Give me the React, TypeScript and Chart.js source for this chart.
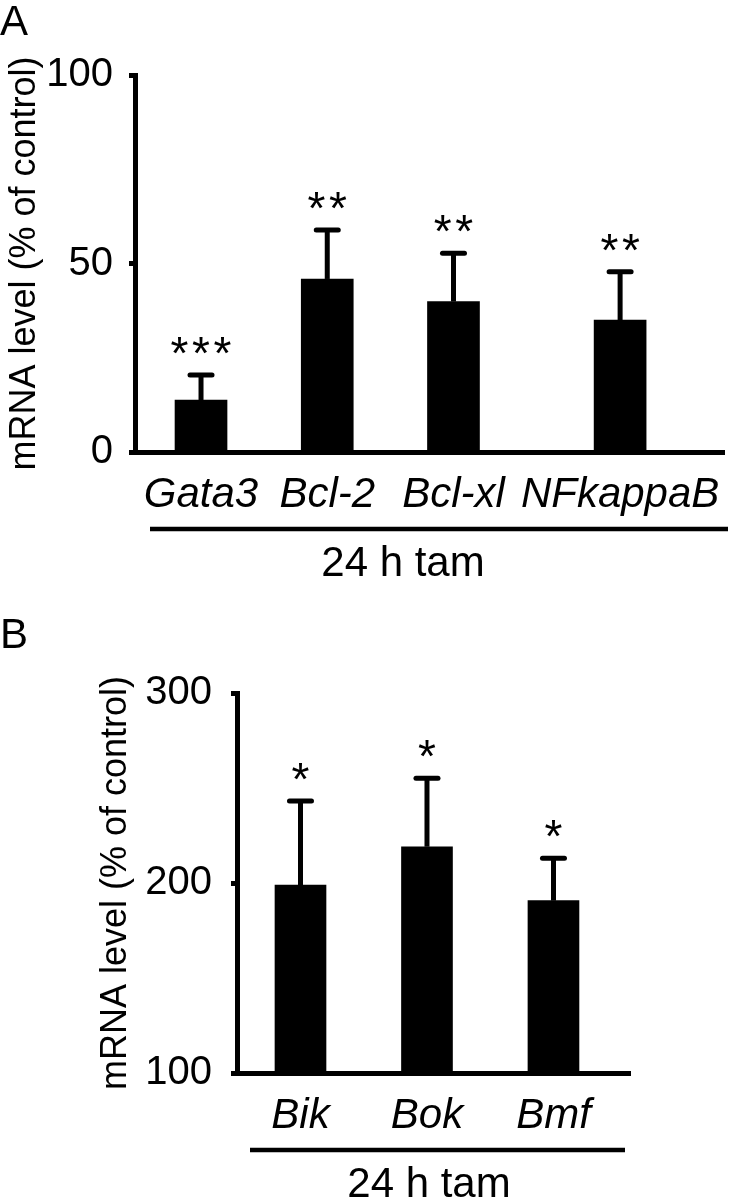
import React, { useEffect, useRef } from 'react';
import { Chart, registerables } from 'chart.js';

Chart.register(...registerables);

const FONT = "'Liberation Sans', Arial, Helvetica, sans-serif";

// ---- Panel A data ----
const genesA = ['Gata3', 'Bcl-2', 'Bcl-xl', 'NFkappaB'];
const meanA = [13.8, 45.9, 39.9, 35.0];
const semA = [6.6, 13.0, 12.8, 12.8];
const starsA = ['***', '**', '**', '**'];
const yTicksA = [0, 50, 100];

// ---- Panel B data ----
const genesB = ['Bik', 'Bok', 'Bmf'];
const meanB = [198.9, 219.1, 190.7];
const semB = [44.3, 36.0, 22.3];
const starsB = ['*', '*', '*'];
const yTicksB = [100, 200, 300];

const yTitle = 'mRNA level (% of control)';
const groupLabel = '24 h tam';

type PanelCfg = {
  letter: string;
  labels: string[];
  mean: number[];
  sem: number[];
  stars: string[];
  yTicks: number[];
  slots: number[];
  top: number;
  width: number;
  height: number;
  area: { left: number; right: number; top: number; bottom: number };
  xRange: [number, number];
  barThickness: number;
  yTickPad: number;
  yTitlePad: number;
  groupLine: { x0: number; x1: number; y: number };
  groupText: { x: number; y: number };
  letterY: number;
};

// layout: category slot positions along the x axis (gene label spacing as in the figure)
const panelA: PanelCfg = {
  letter: 'A',
  labels: genesA,
  mean: meanA,
  sem: semA,
  stars: starsA,
  yTicks: yTicksA,
  slots: [0, 1, 2, 3.32],
  top: 0,
  width: 732,
  height: 600,
  area: { left: 135, right: 724, top: 75, bottom: 452 },
  xRange: [-0.523, 4.143],
  barThickness: 52,
  yTickPad: 16,
  yTitlePad: 3.5,
  groupLine: { x0: 150, x1: 728, y: 529 },
  groupText: { x: 403, y: 576 },
  letterY: 35,
};

const panelB: PanelCfg = {
  letter: 'B',
  labels: genesB,
  mean: meanB,
  sem: semB,
  stars: starsB,
  yTicks: yTicksB,
  slots: [0, 1, 2],
  top: 600,
  width: 732,
  height: 599,
  area: { left: 237, right: 630, top: 93, bottom: 473 },
  xRange: [-0.502, 2.605],
  barThickness: 51,
  yTickPad: 19,
  yTitlePad: 94.5,
  groupLine: { x0: 250, x1: 625, y: 550 },
  groupText: { x: 429, y: 597 },
  letterY: 48,
};

function makeAnnot(cfg: PanelCfg) {
  return {
    id: 'annot' + cfg.letter,
    afterDatasetsDraw(chart: any) {
      const ctx: CanvasRenderingContext2D = chart.ctx;
      const meta = chart.getDatasetMeta(0);
      const yScale = chart.scales.y;
      ctx.save();
      ctx.strokeStyle = '#000';
      ctx.fillStyle = '#000';
      meta.data.forEach((bar: any, i: number) => {
        const top = yScale.getPixelForValue(cfg.mean[i] + cfg.sem[i]);
        ctx.lineWidth = 5;
        ctx.lineCap = 'butt';
        ctx.beginPath();
        ctx.moveTo(bar.x, bar.y);
        ctx.lineTo(bar.x, top);
        ctx.stroke();
        ctx.lineCap = 'round';
        ctx.beginPath();
        ctx.moveTo(bar.x - 11, top);
        ctx.lineTo(bar.x + 11, top);
        ctx.stroke();
        const s = cfg.stars[i];
        const n = s.length;
        ctx.font = `46px ${FONT}`;
        ctx.textAlign = 'center';
        ctx.textBaseline = 'alphabetic';
        for (let k = 0; k < n; k++) {
          ctx.fillText('*', bar.x + (k - (n - 1) / 2) * 21.5, top - 6);
        }
      });
      // group line and label
      ctx.lineCap = 'butt';
      ctx.lineWidth = 4.5;
      ctx.beginPath();
      ctx.moveTo(cfg.groupLine.x0, cfg.groupLine.y);
      ctx.lineTo(cfg.groupLine.x1, cfg.groupLine.y);
      ctx.stroke();
      ctx.font = `42px ${FONT}`;
      ctx.textAlign = 'center';
      ctx.textBaseline = 'alphabetic';
      ctx.fillText(groupLabel, cfg.groupText.x, cfg.groupText.y);
      // panel letter
      ctx.textAlign = 'left';
      ctx.font = `42px ${FONT}`;
      ctx.fillText(cfg.letter, 0, cfg.letterY);
      ctx.restore();
    },
  };
}

function Panel({ cfg }: { cfg: PanelCfg }) {
  const ref = useRef<HTMLCanvasElement>(null);
  useEffect(() => {
    const canvas = ref.current!;
    const yMin = cfg.yTicks[0];
    const yMax = cfg.yTicks[cfg.yTicks.length - 1];
    const step = cfg.yTicks[1] - cfg.yTicks[0];
    const chart = new Chart(canvas, {
      type: 'bar',
      data: {
        labels: cfg.labels,
        datasets: [
          {
            data: cfg.mean.map((m, i) => ({ x: cfg.slots[i], y: m })),
            backgroundColor: '#000',
            borderWidth: 0,
            barThickness: cfg.barThickness,
          } as any,
        ],
      },
      options: {
        responsive: false,
        animation: false,
        devicePixelRatio: 1,
        layout: {
          padding: {
            top: cfg.area.top,
            left: 0,
            right: cfg.width - cfg.area.right,
            bottom: 0,
          },
        },
        plugins: {
          legend: { display: false },
          tooltip: { enabled: false },
          title: { display: false },
        },
        scales: {
          x: {
            type: 'linear',
            min: cfg.xRange[0],
            max: cfg.xRange[1],
            offset: false,
            grid: { display: false },
            border: { display: true, color: '#000', width: 5 },
            ticks: {
              color: '#000',
              font: { family: FONT, size: 42, style: 'italic' },
              padding: 10,
              maxRotation: 0,
              minRotation: 0,
              autoSkip: false,
              callback: (v: any) => {
                const i = cfg.slots.indexOf(Number(v));
                return i >= 0 ? cfg.labels[i] : '';
              },
            },
            afterBuildTicks: (s: any) => {
              s.ticks = cfg.slots.map((v) => ({ value: v }));
            },
            afterFit: (s: any) => {
              s.height = cfg.height - cfg.area.bottom;
            },
          } as any,
          y: {
            min: yMin,
            max: yMax,
            ticks: {
              stepSize: step,
              color: '#000',
              font: { family: FONT, size: 40 },
              padding: cfg.yTickPad,
            },
            grid: {
              drawOnChartArea: false,
              drawTicks: true,
              tickLength: 6,
              tickWidth: 5,
              tickColor: '#000',
            },
            border: { display: true, color: '#000', width: 5 },
            title: {
              display: true,
              text: yTitle,
              color: '#000',
              font: { family: FONT, size: 36 },
              padding: { top: cfg.yTitlePad, bottom: 0 },
            },
            afterFit: (s: any) => {
              s.width = cfg.area.left;
            },
          } as any,
        },
      },
      plugins: [makeAnnot(cfg)],
    });
    return () => chart.destroy();
  }, []);
  return (
    <canvas
      ref={ref}
      width={cfg.width}
      height={cfg.height}
      style={{
        position: 'absolute',
        left: 0,
        top: cfg.top,
        width: cfg.width,
        height: cfg.height,
        display: 'block',
      }}
    />
  );
}

export default function App() {
  return (
    <div
      style={{
        position: 'absolute',
        left: 0,
        top: 0,
        width: 732,
        height: 1199,
        overflow: 'hidden',
        background: '#fff',
      }}
    >
      <Panel cfg={panelA} />
      <Panel cfg={panelB} />
    </div>
  );
}
